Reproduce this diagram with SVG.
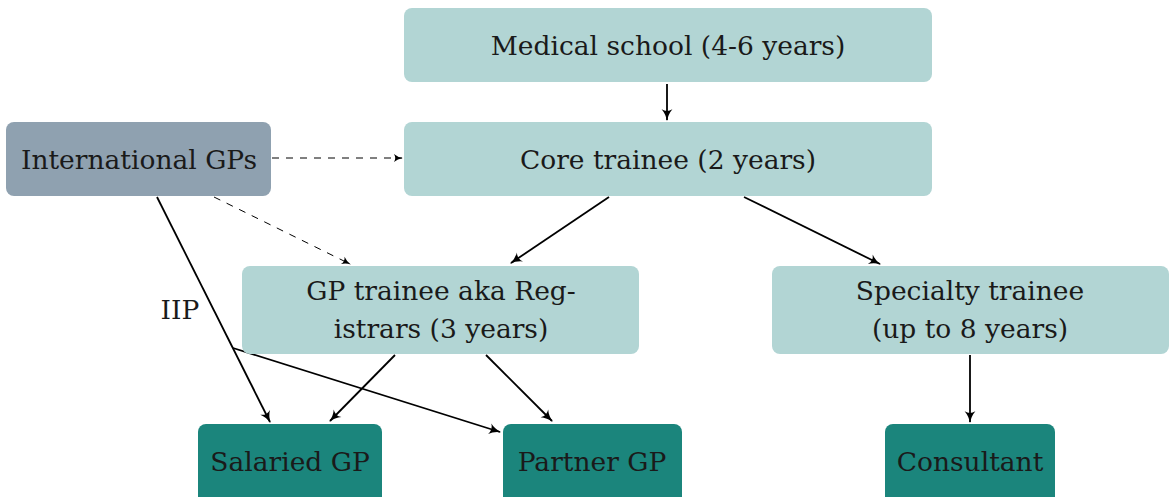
<svg xmlns="http://www.w3.org/2000/svg" width="1169" height="497" viewBox="0 0 1169 497">
<style>
.light{fill:#b2d5d4}
.intl{fill:#8fa1b0}
.dark{fill:#1b857c}
text{font-family:"DejaVu Serif","Liberation Serif",serif;font-size:26.5px;fill:#1a1a1a;text-anchor:middle}
.c{stroke:#000;stroke-width:1.8;fill:none;marker-end:url(#ah)}
.d{stroke:#000;stroke-width:1;fill:none;stroke-dasharray:7,7;marker-end:url(#ahs)}
</style>
<defs>
<marker id="ah" viewBox="0 0 10 10" refX="9" refY="5" markerWidth="12" markerHeight="12" markerUnits="userSpaceOnUse" orient="auto" overflow="visible">
<path d="M0,0.5 Q4,4 10,5 Q4,6 0,9.5 Q3,5 0,0.5Z" fill="#000"/>
</marker>
<marker id="ahs" viewBox="0 0 10 10" refX="9" refY="5" markerWidth="9" markerHeight="9" markerUnits="userSpaceOnUse" orient="auto" overflow="visible">
<path d="M0,0.5 Q4,4 10,5 Q4,6 0,9.5 Q3,5 0,0.5Z" fill="#000"/>
</marker>
</defs>
<g id="connectors">
<line class="c" x1="667" y1="84" x2="667" y2="120"/>
<line class="d" x1="272" y1="158" x2="402" y2="158"/>
<line class="d" x1="214" y1="197" x2="350" y2="264"/>
<line class="c" x1="157" y1="197" x2="270" y2="422"/>
<line class="c" x1="233" y1="348" x2="500" y2="432"/>
<line class="c" x1="609" y1="197" x2="511" y2="263"/>
<line class="c" x1="744" y1="197" x2="880" y2="264"/>
<line class="c" x1="395" y1="355" x2="330" y2="421"/>
<line class="c" x1="486" y1="355" x2="552" y2="421"/>
<line class="c" x1="970" y1="355" x2="970" y2="422"/>
<text x="180" y="319">IIP</text>
</g>
<g id="medical"><rect class="light" x="404" y="8" width="528" height="74" rx="8"/><text x="668" y="55">Medical school (4-6 years)</text></g>
<g id="core"><rect class="light" x="404" y="122" width="528" height="74" rx="8"/><text x="668" y="169">Core trainee (2 years)</text></g>
<g id="intl"><rect class="intl" x="6" y="122" width="265" height="74" rx="8"/><text x="139" y="169">International GPs</text></g>
<g id="gptrainee"><rect class="light" x="242" y="266" width="397" height="88" rx="8"/><text x="441" y="300">GP trainee aka Reg-</text><text x="441" y="338">istrars (3 years)</text></g>
<g id="specialty"><rect class="light" x="772" y="266" width="397" height="88" rx="8"/><text x="970" y="300">Specialty trainee</text><text x="970" y="338">(up to 8 years)</text></g>
<g id="salaried"><rect class="dark" x="198" y="424" width="184" height="80" rx="8"/><text x="290" y="471">Salaried GP</text></g>
<g id="partner"><rect class="dark" x="503" y="424" width="179" height="80" rx="8"/><text x="592" y="471">Partner GP</text></g>
<g id="consultant"><rect class="dark" x="885" y="424" width="170" height="80" rx="8"/><text x="970" y="471">Consultant</text></g>
</svg>
